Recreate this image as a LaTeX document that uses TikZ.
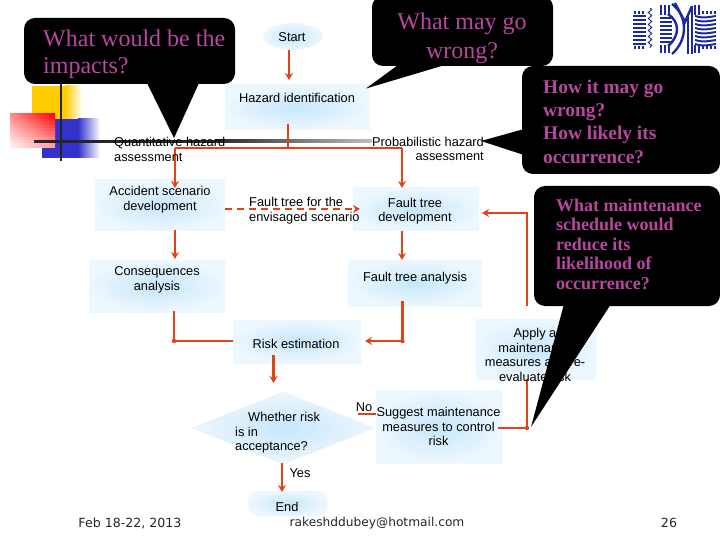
\documentclass[tikz,border=0pt]{standalone}
\usepackage{fontspec}
\setmainfont{Liberation Sans}
\newfontfamily\serifcall{Liberation Serif}
\newfontfamily\footfont{DejaVu Sans}
\usepackage{xcolor}
\usepackage{tikz}
\usetikzlibrary{arrows.meta, positioning, shapes.geometric, decorations.pathmorphing}

\begin{document}
\begin{tikzpicture}[x=1pt, y=-1pt, >=Stealth, every node/.style={align=center, inner sep=0pt},
    flowbox/.style={shape=rectangle, inner color=boxmid, outer color=boxedge, minimum width=#1},
    flowtxt/.style={font=\fontsize{12.8}{14.4}\selectfont, text=black},
    flowline/.style={draw=flowred, line width=2.8pt},
    flowarrow/.style={flowline, -{Stealth[length=7pt,width=8pt]}},
    callbox/.style={fill=black, rounded corners=11pt, shape=rectangle},
    calltxt/.style={text=callpink, align=left, anchor=north west},
    foottxt/.style={font=\footfont\fontsize{12.6}{15}\selectfont, text=black!85}]
      \definecolor{boxmid}{HTML}{C6E7FB} \definecolor{boxedge}{HTML}{EDF7FE}
      \definecolor{flowred}{HTML}{DF4317} \definecolor{callpink}{HTML}{B8479F}
      \definecolor{logoblue}{HTML}{1C2A9C} \definecolor{decoyellow}{HTML}{FFCC00}
      \definecolor{decoblue}{HTML}{3333CC}
      \useasboundingbox (0,0) rectangle (720,540);

      % corner decoration
      \fill[decoyellow] (32,86) rectangle (65,120);
      \shade[left color=decoyellow, right color=white] (65,86) rectangle (82,120);
      \fill[decoblue] (42,119) rectangle (78,158);
      \shade[left color=decoblue, right color=white] (78,119) rectangle (100,158);
      \foreach \k in {0,...,10} {
        \pgfmathsetmacro{\rside}{100-6*\k}
        \pgfmathsetmacro{\lside}{45-3.8*\k}
        \shade[left color=red!\lside!white, right color=red!\rside!white] (10,114+3*\k) rectangle (55,117.2+3*\k);
      }
      \draw[black!85, line width=2.6pt] (61,84) -- (61,161);
      \fill[black!85] (34,139.6) rectangle (215,142.6);
      \shade[left color=black!85, right color=black!25] (215,139.6) rectangle (372,142.6);

      % logo
      \begin{scope}[draw=logoblue, line width=2pt]
        \foreach \y in {16,20,...,44} \draw (633,\y) -- (646,\y);
        \foreach \y in {18,22,...,42} \draw (660,\y) -- (672,\y);
        \foreach \y in {16,20,...,44} \draw (695,\y) .. controls (703,\y+2) .. (716,\y);
        \foreach \x in {661,665,669,695,699} \draw (\x,5) -- (\x,15);
        \foreach \x in {661,665,669,695,699} \draw (\x,45) -- (\x,53);
        \foreach \x in {635,639,643,703,707,711,715} \draw[line width=1.2pt] (\x,11) -- (\x,14);
        \foreach \x in {635,639,643,703,707,711,715} \draw[line width=1.2pt] (\x,46) -- (\x,49);
        \draw[line width=1pt, decorate, decoration={zigzag, segment length=6pt, amplitude=1.6pt}] (650,8) -- (650,48);
        \draw[line width=2.4pt] (672,4) .. controls (688,16) and (688,40) .. (672,54);
        \draw[line width=2.4pt] (668,14) .. controls (680,22) and (680,36) .. (668,46);
        \draw[line width=2.4pt] (675,3) -- (685,22) -- (692,6);
        \draw[line width=2.4pt] (688,14) -- (688,54);
        \draw[line width=2.4pt] (692,6) -- (692,54);
      \end{scope}

      % boxes of the flow
      \node[flowbox=60pt, shape=ellipse, minimum height=27pt] (start) at (293,36.5) {};
      \node[flowbox=145pt, minimum height=45pt] (hazid) at (297.5,107.5) {};
      \node[flowbox=130pt, minimum height=51pt] (accident) at (160,205.5) {};
      \node[flowbox=126pt, minimum height=43pt] (ftdev) at (416,209.5) {};
      \node[flowbox=136pt, minimum height=52pt] (conseq) at (157,286) {};
      \node[flowbox=134pt, minimum height=46pt] (ftana) at (415,283) {};
      \node[flowbox=128pt, minimum height=43pt] (riskest) at (297,341.5) {};
      \node[flowbox=184pt, shape=diamond, aspect=2.5, minimum height=73pt] (accept) at (283,428) {};
      \node[flowbox=126pt, minimum height=73pt] (suggest) at (439,426.5) {};
      \node[flowbox=120pt, minimum height=60pt] (apply) at (536,349) {};
      \node[flowbox=80pt, rounded corners=11pt, minimum height=25pt] (stop) at (288,503.5) {};

      % free ends and bends of connectors
      \coordinate (hazjoin) at (288,148);
      \coordinate (quantend) at (175,148);
      \coordinate (probend) at (402,148);
      \coordinate (conseqbend) at (174,341);
      \coordinate (ftanabend) at (402.5,341);
      \coordinate (backbend) at (527,428);
      \coordinate (loopbend) at (527,213);
      \coordinate (loopfoot) at (527,306);

      \draw[flowarrow] (289,50) -- (289,80);
      \draw[flowline] (288,124) -- (hazjoin);
      \draw[flowline] (quantend) -- (probend);
      \draw[flowarrow] (quantend) -- (175,188);
      \draw[flowarrow] (probend) -- (402,188);
      \draw[flowarrow, dash pattern=on 7pt off 5pt] (accident.east |- 0,209) -- (360,209);
      \draw[flowarrow] (175,230) -- (175,259);
      \draw[flowarrow] (402,231) -- (402,260);
      \draw[flowline] (174,311) -- (conseqbend) -- (riskest.west |- conseqbend);
      \fill[flowred] (conseqbend) circle (2.2pt);
      \draw[flowarrow] (402.5,301) -- (ftanabend) -- (365,341);
      \fill[flowred] (ftanabend) circle (2.2pt);
      \draw[flowarrow] (273.5,355) -- (273.5,383);
      \draw[flowarrow] (282,463) -- (282,492);
      \draw[flowline] (358,414) -- (suggest.west |- 0,414);
      \draw[flowline] (498,428) -- (backbend) -- (527,379);
      \fill[flowred] (backbend) circle (2.2pt);
      \draw[flowarrow] (loopfoot) -- (loopbend) -- (482,213);

      % texts of the flow
      \node[flowtxt] (starttxt) at (292,37) {Start};
      \node[flowtxt] (hazidtxt) at (297,97.5) {Hazard identification};
      \node[flowtxt, anchor=north west, align=left] (quanttxt) at (114,137.5) {Quantitative hazard\\assessment};
      \node[flowtxt, anchor=north east, align=right] (probtxt) at (484,137) {Probabilistic hazard\\assessment};
      \node[flowtxt] (accidenttxt) at (160,199.5) {Accident scenario\\development};
      \node[flowtxt, anchor=north west, align=left] (envtxt) at (249,197.5) {Fault tree for the\\envisaged scenario};
      \node[flowtxt] (ftdevtxt) at (415,211) {Fault tree\\development};
      \node[flowtxt] (conseqtxt) at (157,280) {Consequences\\analysis};
      \node[flowtxt] (ftanatxt) at (415,278.5) {Fault tree analysis};
      \node[flowtxt] (risktxt) at (296,343.5) {Risk estimation};
      \node[flowtxt, anchor=north west, align=left] (accepttxt) at (235,412.5) {\hspace*{13pt}Whether risk\\is in\\acceptance?};
      \node[flowtxt] (yestxt) at (300,473.5) {Yes};
      \node[flowtxt] (stoptxt) at (287,506.5) {End};
      \node[flowtxt] (notxt) at (364,407) {No};
      \node[flowtxt] (suggesttxt) at (438.5,426.5) {Suggest maintenance\\measures to control\\risk};
      \node[flowtxt] (applytxt) at (535,355) {Apply a\\maintenance\\measures and re-\\evaluate risk};

      % callouts
      \node[callbox, minimum width=211pt, minimum height=66pt] (impacts) at (129.5,51) {};
      \fill[black] (147,83) -- (174,138) -- (199,83) -- cycle;
      \node[callbox, minimum width=181pt, minimum height=70pt] (wrong) at (462.5,31) {};
      \fill[black] (398,65) -- (366,88.5) -- (445,65) -- cycle;
      \node[callbox, minimum width=198pt, minimum height=108pt] (howit) at (621,120) {};
      \fill[black] (524,129) -- (481,141) -- (524,155) -- cycle;
      \node[callbox, minimum width=186pt, minimum height=120pt] (schedule) at (627,246) {};
      \fill[black] (564,304) -- (531,427) -- (611,304) -- cycle;

      \node[calltxt, font=\serifcall\fontsize{24}{27}\selectfont] (impactstxt) at (43,30) {What would be the\\impacts?};
      \node[text=callpink, font=\serifcall\fontsize{24}{29.5}\selectfont] (wrongtxt) at (462,38.5) {What may go\\wrong?};
      \node[calltxt, font=\serifcall\bfseries\fontsize{19.4}{23.4}\selectfont] (howittxt) at (543,79.5) {How it may go\\wrong?\\How likely its\\occurrence?};
      \node[calltxt, font=\serifcall\bfseries\fontsize{18}{19.5}\selectfont] (scheduletxt) at (556,198.5) {What maintenance\\schedule would\\reduce its\\likelihood of\\occurrence?};

      % footer
      \node[foottxt] (datetxt) at (130,523) {Feb 18-22, 2013};
      \node[foottxt, font=\footfont\fontsize{12.2}{15}\selectfont] (mailtxt) at (377,523.5) {rakeshddubey@hotmail.com};
      \node[foottxt] (pagetxt) at (669,523) {26};
    \end{tikzpicture}
\end{document}
